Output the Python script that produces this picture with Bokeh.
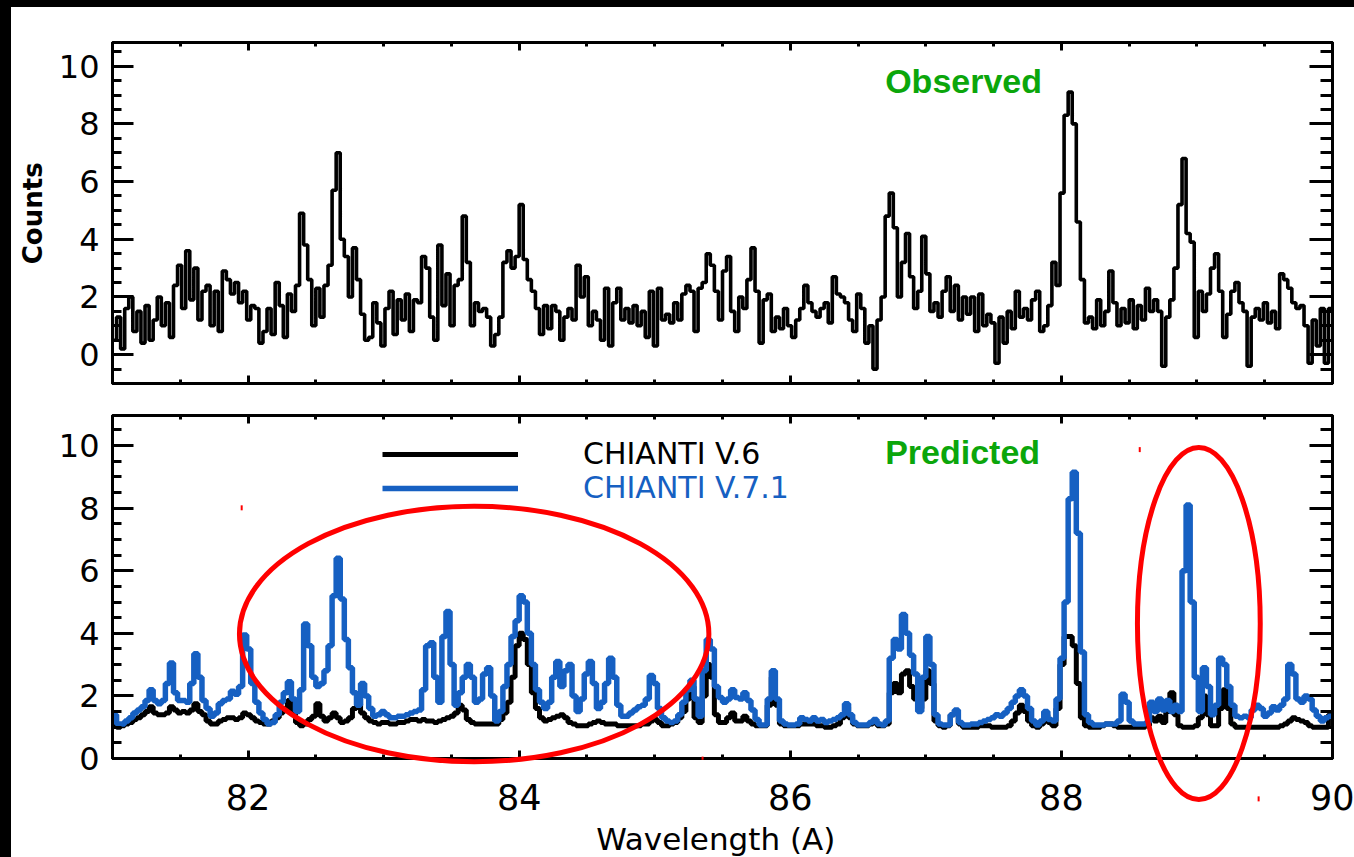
import numpy as np
from math import pi
from bokeh.plotting import figure
from bokeh.models import (Range1d, LinearAxis, SingleIntervalTicker, Label, Legend,
                          LegendItem, Spacer, CustomJSTickFormatter)
from bokeh.layouts import column, row
from bokeh.embed import file_html
from bokeh.resources import INLINE
from bokeh.core.properties import value

# ---------------- data ----------------
BIN_START = 81.0     # Angstrom
BIN_WIDTH = 0.03     # Angstrom

observed = [
    0.5, 1.3, 0.2, 1.6, 2.0, 0.8, 1.5, 0.4, 1.7, 0.5,
    1.2, 2.0, 1.0, 1.8, 0.6, 2.4, 3.1, 1.6, 3.6, 1.9,
    3.0, 1.2, 2.2, 2.4, 1.0, 2.2, 0.8, 2.9, 2.6, 2.1,
    2.5, 1.8, 2.2, 1.2, 1.7, 1.6, 0.4, 0.8, 1.6, 0.7,
    2.5, 1.7, 0.6, 2.1, 1.5, 2.4, 4.9, 3.8, 2.6, 1.0,
    2.3, 1.3, 2.4, 3.1, 5.7, 7.0, 4.0, 3.4, 2.0, 3.7,
    2.6, 1.4, 0.5, 0.6, 1.8, 1.1, 0.3, 1.6, 2.2, 0.7,
    1.9, 1.2, 2.1, 0.8, 1.9, 1.8, 3.4, 3.0, 1.3, 0.5,
    3.8, 1.7, 2.8, 1.0, 2.4, 2.6, 4.8, 3.2, 1.0, 1.8,
    1.5, 1.6, 1.3, 0.3, 0.7, 1.3, 3.2, 3.6, 3.0, 3.4,
    5.2, 3.3, 2.6, 2.2, 1.6, 0.7, 1.7, 0.9, 1.7, 1.5,
    0.5, 1.3, 1.6, 1.2, 3.1, 2.0, 2.7, 1.0, 1.5, 1.2,
    0.5, 2.3, 0.3, 1.8, 2.3, 1.2, 1.6, 1.1, 1.7, 1.0,
    1.5, 0.6, 2.2, 0.3, 2.3, 1.2, 1.4, 1.1, 1.8, 1.2,
    2.1, 2.4, 2.2, 0.8, 2.3, 2.5, 3.5, 3.1, 2.2, 1.2,
    2.9, 3.4, 1.5, 0.8, 2.0, 1.6, 2.6, 3.7, 2.2, 0.4,
    1.9, 2.1, 0.8, 1.3, 0.9, 1.6, 1.0, 0.6, 1.2, 1.6,
    2.4, 1.8, 1.5, 1.3, 1.6, 1.8, 1.1, 2.7, 2.1, 2.0,
    1.8, 1.2, 0.8, 2.1, 1.6, 0.4, 1.0, -0.5, 1.2, 2.0,
    4.8, 5.6, 4.4, 2.0, 3.2, 4.2, 2.7, 1.6, 2.2, 4.1,
    2.8, 1.5, 1.8, 1.3, 2.2, 2.7, 1.5, 2.4, 1.2, 2.0,
    1.4, 2.0, 0.8, 2.1, 1.0, 1.4, 1.1, -0.3, 1.3, 0.4,
    1.5, 0.9, 2.2, 1.3, 1.6, 1.2, 1.9, 2.2, 0.8, 1.0,
    1.7, 3.2, 2.4, 5.6, 8.3, 9.1, 8.0, 4.6, 2.6, 1.1,
    1.3, 0.9, 1.9, 1.0, 1.5, 2.9, 1.8, 1.0, 1.6, 1.1,
    1.9, 0.9, 1.7, 1.2, 2.3, 1.5, 1.9, 1.5, -0.4, 1.3,
    1.9, 3.0, 5.2, 6.8, 4.2, 3.9, 0.6, 2.2, 1.5, 2.1,
    3.0, 3.5, 2.2, 0.6, 1.4, 2.2, 2.5, 1.8, 1.5, -0.4,
    1.3, 1.6, 1.2, 1.8, 1.1, 1.5, 0.9, 2.8, 2.6, 2.3,
    1.8, 1.6, 1.7, 1.0, -0.3, 1.2, 0.3, 1.6, -0.3, 1.6,
]

chianti_v71 = [
    1.40, 1.10, 1.10, 1.20, 1.30, 1.45, 1.55, 1.65, 1.85, 2.20,
    1.85, 1.75, 1.85, 2.40, 3.05, 2.10, 1.85, 1.85, 1.80, 2.40,
    3.35, 2.60, 1.85, 1.60, 1.35, 1.45, 1.75, 1.85, 1.90, 2.15,
    2.05, 2.30, 3.95, 3.50, 2.40, 1.80, 1.45, 1.25, 1.10, 1.15,
    1.40, 1.80, 2.10, 2.45, 1.90, 1.50, 2.20, 4.30, 3.60, 2.60,
    2.30, 2.40, 2.80, 3.60, 5.20, 6.40, 5.10, 3.80, 2.90, 2.10,
    1.70, 2.40, 2.00, 1.60, 1.35, 1.40, 1.50, 1.40, 1.30, 1.30,
    1.35, 1.35, 1.40, 1.45, 1.50, 1.55, 2.20, 3.60, 3.70, 2.60,
    1.80, 3.90, 4.70, 3.00, 1.70, 2.10, 2.60, 3.00, 2.60, 1.80,
    1.90, 2.70, 2.90, 2.00, 1.20, 1.50, 2.30, 3.00, 3.90, 4.40,
    5.20, 5.00, 4.00, 3.00, 2.20, 1.80, 1.60, 1.80, 2.60, 3.10,
    2.30, 2.80, 3.00, 2.00, 1.50, 1.90, 2.70, 3.10, 2.40, 1.60,
    1.80, 2.40, 3.20, 2.60, 1.70, 1.35, 1.35, 1.45, 1.55, 1.65,
    1.70, 1.90, 2.65, 2.40, 1.60, 1.30, 1.20, 1.15, 1.20, 1.40,
    1.80, 2.20, 2.50, 1.90, 1.35, 2.80, 3.80, 3.50, 2.30, 1.95,
    1.80, 1.90, 2.20, 1.95, 1.90, 2.10, 1.85, 1.55, 1.25, 1.07,
    1.07, 1.90, 2.80, 1.90, 1.20, 1.10, 1.07, 1.07, 1.10, 1.30,
    1.25, 1.20, 1.30, 1.20, 1.25, 1.15, 1.20, 1.25, 1.30, 1.40,
    1.75, 1.40, 1.15, 1.07, 1.07, 1.07, 1.15, 1.25, 1.10, 1.07,
    1.20, 3.20, 3.80, 3.50, 4.60, 4.00, 3.30, 2.70, 1.50, 2.60,
    3.90, 3.00, 1.40, 1.10, 1.07, 1.07, 1.40, 1.55, 1.15, 1.07,
    1.07, 1.10, 1.10, 1.15, 1.20, 1.25, 1.30, 1.40, 1.35, 1.45,
    1.60, 1.80, 2.00, 2.20, 2.00, 1.60, 1.20, 1.07, 1.20, 1.50,
    1.25, 1.20, 1.90, 3.20, 5.00, 8.30, 9.15, 7.20, 3.40, 1.40,
    1.15, 1.07, 1.07, 1.07, 1.10, 1.10, 1.10, 1.20, 2.05, 1.80,
    1.20, 1.10, 1.10, 1.10, 1.15, 1.80, 1.50, 1.90, 1.55, 1.85,
    1.50, 1.70, 1.50, 6.00, 8.10, 5.00, 2.60, 1.50, 2.90, 2.30,
    1.40, 1.70, 3.20, 3.00, 2.30, 1.70, 1.35, 1.30, 1.35, 1.30,
    1.55, 1.70, 1.60, 1.35, 1.45, 1.65, 1.55, 1.70, 1.90, 3.00,
    2.70, 1.90, 1.80, 2.00, 1.90, 1.55, 1.35, 1.20, 1.30, 1.35,
]

chianti_v6 = [
    1.10, 1.00, 1.05, 1.10, 1.15, 1.25, 1.30, 1.40, 1.50, 1.65,
    1.45, 1.40, 1.40, 1.45, 1.65, 1.55, 1.45, 1.50, 1.45, 1.55,
    1.75, 1.50, 1.40, 1.20, 1.10, 1.10, 1.20, 1.25, 1.30, 1.30,
    1.25, 1.30, 1.45, 1.40, 1.30, 1.20, 1.15, 1.10, 1.10, 1.20,
    1.30, 1.45, 1.60, 1.85, 1.50, 1.15, 1.05, 1.10, 1.25, 1.35,
    1.75, 1.35, 1.20, 1.30, 1.45, 1.30, 1.15, 1.20, 1.30, 1.60,
    1.75, 1.45, 1.30, 1.20, 1.15, 1.10, 1.15, 1.15, 1.10, 1.10,
    1.15, 1.15, 1.20, 1.25, 1.25, 1.20, 1.25, 1.20, 1.20, 1.15,
    1.20, 1.25, 1.30, 1.35, 1.45, 1.70, 1.55, 1.25, 1.15, 1.10,
    1.10, 1.10, 1.10, 1.10, 1.10, 1.25, 1.45, 1.80, 2.60, 3.60,
    4.00, 3.80, 3.00, 2.10, 1.60, 1.30, 1.20, 1.25, 1.30, 1.35,
    1.40, 1.30, 1.15, 1.10, 1.05, 1.05, 1.05, 1.10, 1.15, 1.20,
    1.15, 1.10, 1.10, 1.10, 1.05, 1.05, 1.05, 1.05, 1.05, 1.05,
    1.10, 1.10, 1.20, 1.25, 1.15, 1.05, 1.05, 1.10, 1.15, 1.30,
    1.50, 1.90, 2.30, 1.30, 1.15, 2.00, 3.00, 2.60, 1.40, 1.15,
    1.15, 1.30, 1.45, 1.20, 1.20, 1.35, 1.20, 1.10, 1.05, 1.05,
    1.05, 1.70, 2.60, 1.70, 1.10, 1.05, 1.05, 1.05, 1.05, 1.10,
    1.10, 1.10, 1.10, 1.05, 1.05, 1.00, 1.00, 1.05, 1.10, 1.30,
    1.65, 1.30, 1.10, 1.05, 1.05, 1.05, 1.10, 1.20, 1.05, 1.05,
    1.10, 2.10, 2.40, 2.10, 2.70, 2.80, 2.30, 1.90, 1.60, 1.90,
    2.80, 2.40, 1.20, 1.05, 1.00, 1.05, 1.40, 1.50, 1.10, 1.00,
    1.00, 1.00, 1.00, 1.05, 1.05, 1.05, 1.00, 1.00, 1.00, 1.00,
    1.05, 1.20, 1.45, 1.70, 1.50, 1.20, 1.05, 1.00, 1.10, 1.40,
    1.15, 1.05, 1.60, 3.00, 3.90, 3.90, 3.60, 2.40, 1.30, 1.05,
    1.00, 1.00, 1.00, 1.05, 1.10, 1.10, 1.05, 1.00, 1.00, 1.00,
    1.00, 1.00, 1.00, 1.00, 1.05, 1.30, 1.20, 1.35, 1.15, 1.50,
    2.10, 1.40, 1.05, 1.00, 1.00, 1.00, 1.05, 1.30, 2.00, 1.40,
    1.05, 1.05, 1.60, 2.20, 1.60, 1.10, 1.00, 1.00, 1.00, 1.00,
    1.00, 1.00, 1.00, 1.00, 1.00, 1.00, 1.00, 1.05, 1.10, 1.20,
    1.30, 1.25, 1.20, 1.15, 1.05, 1.00, 1.00, 1.00, 1.00, 1.40,
]

# red highlight ellipses drawn on the predicted panel (data units)
highlight_x = [83.668, 89.014]
highlight_y = [3.978, 4.313]
highlight_w = [3.463, 0.906]
highlight_h = [8.166, 11.26]

# small red specks in the original figure (data units: x, y0, y1)
speck_x = [81.953, 88.578, 89.455, 85.353]
speck_y0 = [7.93, 9.79, -1.37, -0.04]
speck_y1 = [8.09, 9.95, -1.21, 0.06]

assert len(observed) == len(chianti_v6) == len(chianti_v71) == 300

edges = BIN_START + BIN_WIDTH * np.arange(len(observed) + 1)


def stepped(vals):
    return list(vals) + [vals[-1]]


FONT = "DejaVu Sans"
BLUE = "#1660C2"
GREEN = "#0BA60B"
RED = "#FF0000"


def add_frame_axes(p, show_x_labels):
    empty = CustomJSTickFormatter(code="return ''")
    xt = SingleIntervalTicker(interval=2, num_minor_ticks=4)
    yt = SingleIntervalTicker(interval=2, num_minor_ticks=4)

    def base(ax):
        ax.axis_line_color = "black"
        ax.axis_line_width = 3
        ax.major_tick_line_color = "black"
        ax.minor_tick_line_color = "black"
        ax.major_tick_line_width = 3
        ax.minor_tick_line_width = 3
        ax.major_tick_out = 0
        ax.minor_tick_out = 0
        ax.major_label_text_font = FONT
        ax.major_label_text_color = "black"

    # bottom
    xb = p.xaxis[0]
    xb.ticker = xt
    base(xb)
    xb.major_tick_in = 8
    xb.minor_tick_in = 4
    if show_x_labels:
        xb.major_label_text_font_size = "35px"
        xb.major_label_standoff = 25
    else:
        xb.formatter = empty
        xb.major_label_text_font_size = "1px"
        xb.major_label_standoff = 0

    # left
    yl = p.yaxis[0]
    yl.ticker = yt
    base(yl)
    yl.major_tick_in = 21
    yl.minor_tick_in = 9
    yl.major_label_text_font_size = "32px"
    yl.major_label_standoff = 13

    # top
    xa = LinearAxis(ticker=xt, formatter=empty)
    base(xa)
    xa.major_tick_in = 8
    xa.minor_tick_in = 4
    xa.major_label_text_font_size = "1px"
    xa.major_label_standoff = 0
    p.add_layout(xa, "above")

    # right
    yr = LinearAxis(ticker=yt, formatter=empty)
    base(yr)
    yr.major_tick_in = 23
    yr.minor_tick_in = 12
    yr.major_label_text_font_size = "1px"
    yr.major_label_standoff = 0
    p.add_layout(yr, "right")


def make_fig(height, y0, y1, mb_top, mb_bottom, show_x_labels):
    p = figure(width=1343, height=height,
               x_range=Range1d(81, 90), y_range=Range1d(y0, y1),
               output_backend="svg", toolbar_location=None,
               min_border_left=101, min_border_right=22,
               min_border_top=mb_top, min_border_bottom=mb_bottom,
               background_fill_color="white", border_fill_color="white",
               outline_line_color="black", outline_line_width=3)
    p.xgrid.visible = False
    p.ygrid.visible = False
    add_frame_axes(p, show_x_labels)
    return p


# ---------------- top panel: observed ----------------
p1 = make_fig(392, -1.0, 10.82, 35, 16, False)
p1.step(edges, stepped(observed), mode="after", line_color="black", line_width=3.6)
p1.add_layout(Label(x=86.70, y=9.50, text="Observed", text_font="Liberation Sans",
                    text_font_style="bold", text_font_size="34px", text_color=GREEN,
                    text_baseline="middle", text_align="left"))
# y-axis title, drawn as an unclipped text glyph in the left margin
p1.text(x=[80.41], y=[4.9], text=["Counts"], angle=pi / 2,
        text_font=value(FONT), text_font_style="bold", text_font_size="26px",
        text_color="black", text_align="center", text_baseline="middle",
        level="overlay")

# ---------------- bottom panel: predicted ----------------
p2 = make_fig(458, 0.0, 10.96, 16, 99, True)
r_v6 = p2.step(edges, stepped(chianti_v6), mode="after", line_color="black", line_width=5)
r_v71 = p2.step(edges, stepped(chianti_v71), mode="after", line_color=BLUE, line_width=5.5)

for item, color, vy in ((LegendItem(label="CHIANTI V.6", renderers=[r_v6]), "black", 287),
                        (LegendItem(label="CHIANTI V.7.1", renderers=[r_v71]), BLUE, 253)):
    lg = Legend(items=[item], location=(270, vy), orientation="vertical",
                glyph_width=136, glyph_height=32, label_height=32, label_width=10,
                label_standoff=65, spacing=0, padding=0, margin=0,
                background_fill_alpha=0, border_line_alpha=0,
                label_text_font=FONT, label_text_font_size="30px",
                label_text_color=color, label_text_baseline="alphabetic")
    p2.add_layout(lg)

p2.add_layout(Label(x=86.70, y=9.78, text="Predicted", text_font="Liberation Sans",
                    text_font_style="bold", text_font_size="34px", text_color=GREEN,
                    text_baseline="middle", text_align="left"))
# x-axis title, drawn as an unclipped text glyph below the frame
p2.text(x=[85.45], y=[-2.56], text=["Wavelength (A)"],
        text_font=value(FONT), text_font_size="31px", text_color="black",
        text_align="center", text_baseline="middle", level="overlay")

p2.ellipse(x=highlight_x, y=highlight_y, width=highlight_w, height=highlight_h,
           fill_color=None, line_color=RED, line_width=5, level="overlay")
p2.segment(x0=speck_x, y0=speck_y0, x1=speck_x, y1=speck_y1,
           line_color=RED, line_width=2, level="overlay")

# ---------------- page layout (black strips at top and left) ----------------
top_strip = Spacer(width=1354, height=7, styles={"background-color": "black"})
left_strip = Spacer(width=11, height=850, styles={"background-color": "black"})
layout = column(top_strip, row(left_strip, column(p1, p2, spacing=0), spacing=0), spacing=0)

with open("out.html", "w") as f:
    f.write(file_html(layout, INLINE))
